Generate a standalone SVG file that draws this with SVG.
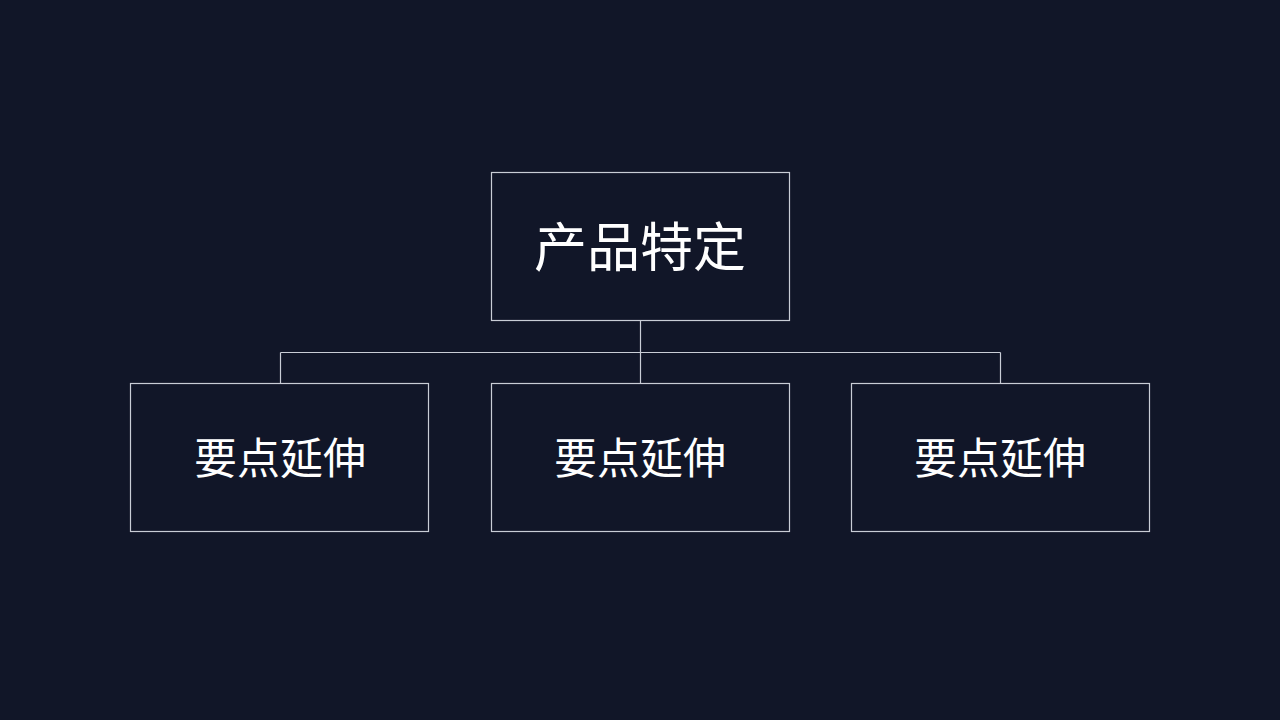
<svg xmlns="http://www.w3.org/2000/svg" width="1280" height="720" viewBox="0 0 1280 720">
<style>
.box{fill:none;stroke:#c9cdd6;stroke-width:1.2}
.conn{fill:none;stroke:#c9cdd6;stroke-width:1.2}
.t{fill:#ffffff;font-family:"Noto Sans CJK SC","Noto Sans",sans-serif;text-anchor:middle}
</style>
<rect width="1280" height="720" fill="#111628"/>
<g id="connectors">
<path class="conn" d="M640.5 320.5V383.5M280.5 352.5H1000.5M280.5 352.5V383.5M1000.5 352.5V383.5"/>
</g>
<g id="root">
<rect class="box" x="491.5" y="172.5" width="298" height="148"/>
<text class="t" x="640" y="267" font-size="53">产品特定</text>
</g>
<g id="child1">
<rect class="box" x="130.5" y="383.5" width="298" height="148"/>
<text class="t" x="280" y="474" font-size="43">要点延伸</text>
</g>
<g id="child2">
<rect class="box" x="491.5" y="383.5" width="298" height="148"/>
<text class="t" x="640" y="474" font-size="43">要点延伸</text>
</g>
<g id="child3">
<rect class="box" x="851.5" y="383.5" width="298" height="148"/>
<text class="t" x="1000" y="474" font-size="43">要点延伸</text>
</g>
</svg>
